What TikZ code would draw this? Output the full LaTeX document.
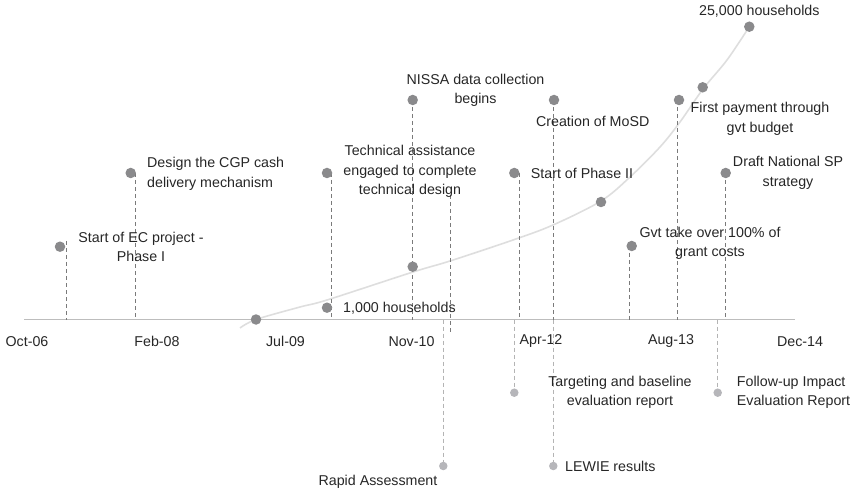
\documentclass[tikz,border=0pt]{standalone}
\usepackage{fontspec}
\setmainfont{Liberation Sans}
\definecolor{dotc}{HTML}{8A8A8C}
\definecolor{ldotc}{HTML}{B6B6BA}
\definecolor{dashc}{HTML}{7A7A7A}
\definecolor{ldashc}{HTML}{B4B4B4}
\definecolor{axisc}{HTML}{BDBDBD}
\definecolor{curvec}{HTML}{DEDEDE}
\definecolor{txt}{HTML}{262626}
\tikzset{
  dot/.style={circle, fill=dotc, inner sep=0pt, minimum size=10.5bp},
  ldot/.style={circle, fill=ldotc, inner sep=0pt, minimum size=8.5bp},
  lbl/.style={text=txt, font=\fontsize{14.3}{19.5}\selectfont, inner sep=0pt, align=center},
  dl/.style={draw=dashc, line width=0.9bp, dash pattern=on 4bp off 3bp},
  ldl/.style={draw=ldashc, line width=0.9bp, dash pattern=on 4bp off 3bp},
  axisline/.style={draw=axisc, line width=1bp},
  growth/.style={draw=curvec, line width=1.6bp}
}
\begin{document}
\begin{tikzpicture}[x=1bp, y=-1bp]
\useasboundingbox (0,0) rectangle (855,492);

% axis
\coordinate (ax0) at (24,319.5);
\coordinate (ax1) at (795,319.5);
\draw[axisline] (ax0) -- (ax1);

% axis labels
\node[lbl] (m1) at (27,341.5) {Oct-06};
\node[lbl] (m2) at (157,341.5) {Feb-08};
\node[lbl] (m3) at (285.5,341.5) {Jul-09};
\node[lbl] (m4) at (411.5,341.5) {Nov-10};
\node[lbl] (m5) at (541,341.5) {Apr-12};
\node[lbl] (m6) at (671,341.5) {Aug-13};
\node[lbl] (m7) at (800,341.5) {Dec-14};

% growth curve
\draw[growth] plot[smooth, tension=0.55] coordinates {(240,328) (256,319.5) (300,307) (327,300) (413,272) (450,261) (513,240) (553,225) (601,201) (630,177) (660,147) (680,122) (703,89) (727,60) (749.3,26.7)};

% upper dashed lines
\coordinate (d1t) at (66.3,241);   \coordinate (d1b) at (66.3,319.5);
\coordinate (d2t) at (135.5,173);  \coordinate (d2b) at (135.5,319.5);
\coordinate (d3t) at (331.5,173);  \coordinate (d3b) at (331.5,319.5);
\coordinate (d3xt) at (450.7,195); \coordinate (d3xb) at (450.7,335);
\coordinate (d4t) at (412.5,100);  \coordinate (d4b) at (412.5,319.5);
\coordinate (d5t) at (519.3,173);  \coordinate (d5b) at (519.3,319.5);
\coordinate (d6t) at (553.3,100);  \coordinate (d6b) at (553.3,319.5);
\coordinate (d7t) at (629.3,246);  \coordinate (d7b) at (629.3,319.5);
\coordinate (d8t) at (677.7,100);  \coordinate (d8b) at (677.7,319.5);
\coordinate (d9t) at (725,173);    \coordinate (d9b) at (725,319.5);
\draw[dl] (d1t) -- (d1b);
\draw[dl] (d2t) -- (d2b);
\draw[dl] (d3t) -- (d3b);
\draw[dl] (d3xt) -- (d3xb);
\draw[dl] (d4t) -- (d4b);
\draw[dl] (d5t) -- (d5b);
\draw[dl] (d6t) -- (d6b);
\draw[dl] (d7t) -- (d7b);
\draw[dl] (d8t) -- (d8b);
\draw[dl] (d9t) -- (d9b);

% lower dashed lines
\coordinate (l1t) at (443.3,319.5); \coordinate (l1c) at (443.3,466);
\coordinate (l2t) at (514.3,319.5); \coordinate (l2c) at (514.3,392.7);
\coordinate (l3t) at (553.3,319.5); \coordinate (l3c) at (553.3,466);
\coordinate (l4t) at (717.7,319.5); \coordinate (l4c) at (717.7,392.7);
\draw[ldl] (l1t) -- (l1c);
\draw[ldl] (l2t) -- (l2c);
\draw[ldl] (l3t) -- (l3c);
\draw[ldl] (l4t) -- (l4c);
\node[ldot] (l1) at (l1c) {};
\node[ldot] (l2) at (l2c) {};
\node[ldot] (l3) at (l3c) {};
\node[ldot] (l4) at (l4c) {};

% upper event dots
\node[dot] (d1) at (60,246.7) {};
\node[dot] (d2) at (130.7,173) {};
\node[dot] (d3) at (327,173) {};
\node[dot] (d4) at (412.7,100) {};
\node[dot] (d5) at (514.3,173) {};
\node[dot] (d6) at (554,100) {};
\node[dot] (d7) at (631.7,246) {};
\node[dot] (d8) at (679,100) {};
\node[dot] (d9) at (725.7,173) {};

% curve dots
\node[dot] (c1) at (256,319.5) {};
\node[dot] (c2) at (327,307.7) {};
\node[dot] (c3) at (412.7,266.7) {};
\node[dot] (c4) at (601,202) {};
\node[dot] (c5) at (702.7,87.3) {};
\node[dot] (c6) at (749.3,26.7) {};

% labels
\node[lbl] (t1) at (141,247) {Start of EC project -\\Phase I};
\node[lbl, anchor=west, align=left] (t2) at (147,173.7) {Design the CGP cash\\delivery mechanism};
\node[lbl] (t3) at (410,171.7) {Technical assistance\\engaged to complete\\technical design};
\node[lbl] (t4) at (475.5,90.5) {NISSA data collection\\begins};
\node[lbl, anchor=west] (t5) at (530.7,173) {Start of Phase II};
\node[lbl] (t6) at (592.7,121) {Creation of MoSD};
\node[lbl] (t7) at (710,243.5) {Gvt take over 100\% of\\grant costs};
\node[lbl] (t8) at (760,119) {First payment through\\gvt budget};
\node[lbl] (t9) at (788,173) {Draft National SP\\strategy};
\node[lbl, anchor=west] (tc2) at (343,308) {1,000 households};
\node[lbl] (tc6) at (759.3,11) {25,000 households};
\node[lbl] (tl1) at (378,482) {Rapid Assessment};
\node[lbl] (tl2) at (620,392.5) {Targeting and baseline\\evaluation report};
\node[lbl, anchor=west] (tl3) at (565,466) {LEWIE results};
\node[lbl, anchor=west, align=left] (tl4) at (736.7,392.5) {Follow-up Impact\\Evaluation Report};
\end{tikzpicture}
\end{document}
